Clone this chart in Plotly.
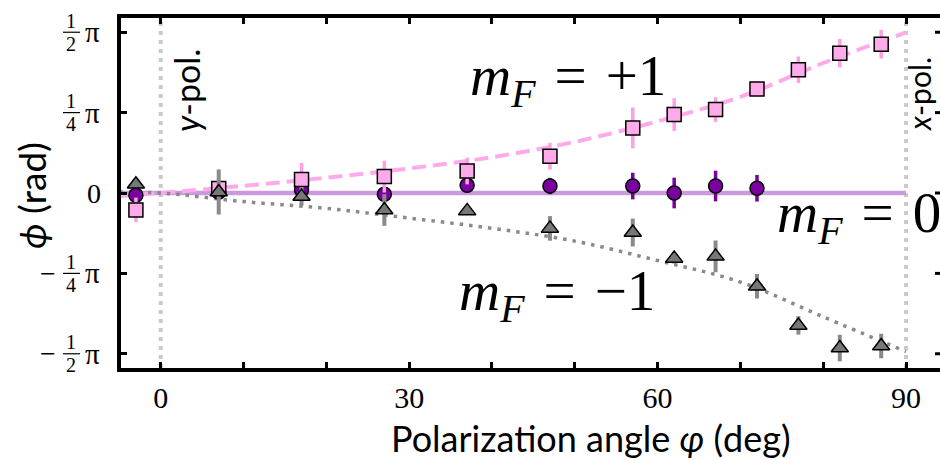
import math
import plotly.graph_objects as go

# ---------------- data ----------------
# polarization angle (deg)
sq_x = [-3, 7, 17, 27, 37, 47, 57, 62, 67, 72, 77, 82, 87]
sq_y = [-0.165, 0.043, 0.133, 0.16, 0.214, 0.36, 0.636, 0.766, 0.815, 1.016, 1.204, 1.366, 1.454]
sq_e = [0.12, 0.03, 0.16, 0.155, 0.13, 0.13, 0.20, 0.16, 0.12, 0.07, 0.13, 0.14, 0.14]

ci_x = [-3, 7, 17, 27, 37, 47, 57, 62, 67, 72]
ci_y = [-0.022, 0.01, 0.03, -0.013, 0.075, 0.068, 0.068, 0.0, 0.068, 0.046]
ci_e = [0.03, 0.03, 0.03, 0.03, 0.03, 0.08, 0.13, 0.15, 0.15, 0.13]

tr_x = [-3, 7, 17, 27, 37, 47, 57, 62, 67, 72, 77, 82, 87]
tr_y = [0.085, 0.01, -0.035, -0.166, -0.175, -0.346, -0.386, -0.639, -0.619, -0.911, -1.294, -1.515, -1.495]
tr_e = [0.04, 0.22, 0.09, 0.155, 0.03, 0.12, 0.136, 0.05, 0.155, 0.12, 0.09, 0.13, 0.12]

fit_x = [-5, 0, 10, 20, 30, 40, 50, 60, 70, 80, 90]
fit_p1 = [-0.03, 0, 0.07, 0.15, 0.24, 0.35, 0.50, 0.70, 0.94, 1.27, 1.57]
fit_m1 = [0.01, 0, -0.084, -0.15, -0.245, -0.345, -0.47, -0.66, -0.87, -1.21, -1.55]
fit0_x = [-5, 90]
fit0_y = [0, 0]

pol_lines = [0, 90]

x_ticks = [0, 30, 60, 90]
x_ticktext = ["0", "30", "60", "90"]
x_minor_step = 10
y_ticks = [math.pi / 2, math.pi / 4, 0, -math.pi / 4, -math.pi / 2]
x_range = [-4.8, 94.1]
y_range = [-1.7098, 1.7098]

# ---------------- style ----------------
PINK = "#ffaaea"
PINK_ERR = "#ff9fe4"
PURPLE = "#7a00a0"
PURPLE_LINE = "#c99bdc"
GRAY = "#777777"
GRAY_ERR = "#8a8a8a"
SERIF = "Liberation Serif"
SANS = "Lato"

L, R, T, B = 121, 940, 18, 368
W, H = R - L, B - T

def px(xp):
    return (xp - L) / W

def py(yp):
    return (B - yp) / H

fig = go.Figure()

for xv in pol_lines:
    fig.add_trace(go.Scatter(x=[xv, xv], y=y_range, mode="lines",
                             line=dict(color="#cacaca", width=4, dash="4px,5px"),
                             hoverinfo="skip", showlegend=False))

fig.add_trace(go.Scatter(x=fit0_x, y=fit0_y, mode="lines",
                         line=dict(color=PURPLE_LINE, width=4.3), showlegend=False))
fig.add_trace(go.Scatter(x=fit_x, y=fit_p1, mode="lines", line_shape="spline",
                         line=dict(color=PINK, width=4, dash="14px,7px"), showlegend=False))
fig.add_trace(go.Scatter(x=fit_x, y=fit_m1, mode="lines", line_shape="spline",
                         line=dict(color=GRAY_ERR, width=3.5, dash="3.5px,6px"), showlegend=False))

fig.add_trace(go.Scatter(x=ci_x, y=ci_y, mode="markers",
                         error_y=dict(type="data", array=ci_e, color=PURPLE, thickness=3.5, width=0),
                         marker=dict(symbol="circle", size=14, color=PURPLE,
                                     line=dict(color="black", width=1.5)),
                         showlegend=False))
fig.add_trace(go.Scatter(x=sq_x, y=sq_y, mode="markers",
                         error_y=dict(type="data", array=sq_e, color=PINK_ERR, thickness=3.5, width=0),
                         marker=dict(symbol="square", size=14, color=PINK,
                                     line=dict(color="black", width=1.5)),
                         showlegend=False))
fig.add_trace(go.Scatter(x=tr_x, y=tr_y, mode="markers",
                         error_y=dict(type="data", array=tr_e, color=GRAY_ERR, thickness=4, width=0),
                         marker=dict(symbol="triangle-up", size=15, color=GRAY,
                                     line=dict(color="black", width=1.5)),
                         showlegend=False))

annotations = []
shapes = []

frac = {math.pi / 2: "2", math.pi / 4: "4", -math.pi / 4: "4", -math.pi / 2: "2"}
for v in y_ticks:
    if v == 0:
        annotations.append(dict(x=0, y=v, xref="paper", yref="y", text="0", showarrow=False,
                                xanchor="right", yanchor="middle", xshift=-18,
                                font=dict(family=SERIF, size=28, color="black")))
        continue
    annotations.append(dict(x=0, y=v, xref="paper", yref="y", text="π", showarrow=False,
                            xanchor="right", yanchor="middle", xshift=-19,
                            font=dict(family=SERIF, size=29, color="black")))
    annotations.append(dict(x=0, y=v, xref="paper", yref="y", text="1", showarrow=False,
                            xanchor="center", yanchor="middle", xshift=-50, yshift=11.5,
                            font=dict(family=SERIF, size=20, color="black")))
    annotations.append(dict(x=0, y=v, xref="paper", yref="y", text=frac[v], showarrow=False,
                            xanchor="center", yanchor="middle", xshift=-50, yshift=-11.5,
                            font=dict(family=SERIF, size=20, color="black")))
    shapes.append(dict(type="line", xref="paper", yref="y", x0=px(63), x1=px(80), y0=v, y1=v,
                       line=dict(color="black", width=1.2)))
    if v < 0:
        annotations.append(dict(x=0, y=v, xref="paper", yref="y", text="−", showarrow=False,
                                xanchor="center", yanchor="middle", xshift=-73,
                                font=dict(family=SERIF, size=28, color="black")))
for v in y_ticks:
    shapes.append(dict(type="line", xref="paper", yref="y", x0=1 - 5 / W, x1=1, y0=v, y1=v,
                       line=dict(color="black", width=3)))

annotations.append(dict(x=px(591), y=py(438), xref="paper", yref="paper", showarrow=False,
                        text="Polarization angle <i>φ</i> (deg)",
                        xanchor="center", yanchor="middle",
                        font=dict(family=SANS, size=36, color="black")))
annotations.append(dict(x=px(31), y=py(196), xref="paper", yref="paper", showarrow=False,
                        text="<i>ϕ</i> (rad)",
                        textangle=-90, xanchor="center", yanchor="middle",
                        font=dict(family=SANS, size=37, color="black")))

SP = "\u2004"
for txt, xl, yc in [("+1", 468, 80), ("0", 775, 217), ("−1", 457, 295)]:
    annotations.append(dict(x=px(xl), y=py(yc), xref="paper", yref="paper", showarrow=False,
                            text=f"<i>m</i><sub><i>F</i></sub>{SP}={SP}{txt}",
                            xanchor="left", yanchor="middle",
                            font=dict(family=SERIF, size=57, color="black")))

annotations.append(dict(x=px(187), y=py(91), xref="paper", yref="paper", showarrow=False,
                        text="<i>y</i>-pol.",
                        textangle=-90, xanchor="center", yanchor="middle",
                        font=dict(family=SANS, size=34, color="black")))
annotations.append(dict(x=px(919), y=py(94), xref="paper", yref="paper", showarrow=False,
                        text="<i>x</i>-pol.",
                        textangle=-90, xanchor="center", yanchor="middle",
                        font=dict(family=SANS, size=30, color="black")))

fig.update_layout(
    width=940, height=460,
    margin=dict(l=L, r=0, t=T, b=460 - B),
    paper_bgcolor="white", plot_bgcolor="white",
    annotations=annotations, shapes=shapes,
    xaxis=dict(range=x_range, tickvals=x_ticks, ticktext=x_ticktext,
               ticks="inside", ticklen=6, tickwidth=3, tickcolor="black",
               minor=dict(dtick=x_minor_step, tick0=0, ticks="inside", ticklen=6,
                          tickwidth=3, tickcolor="black", showgrid=False),
               showline=True, linewidth=3.5, linecolor="black", mirror="ticks",
               showgrid=False, zeroline=False,
               tickfont=dict(family=SERIF, size=30, color="black"),
               ticklabelstandoff=0),
    yaxis=dict(range=y_range, tickvals=y_ticks, showticklabels=False,
               ticks="inside", ticklen=6, tickwidth=3, tickcolor="black",
               showline=True, linewidth=3.5, linecolor="black", mirror=False,
               showgrid=False, zeroline=False),
)

fig.write_html("out.html")
